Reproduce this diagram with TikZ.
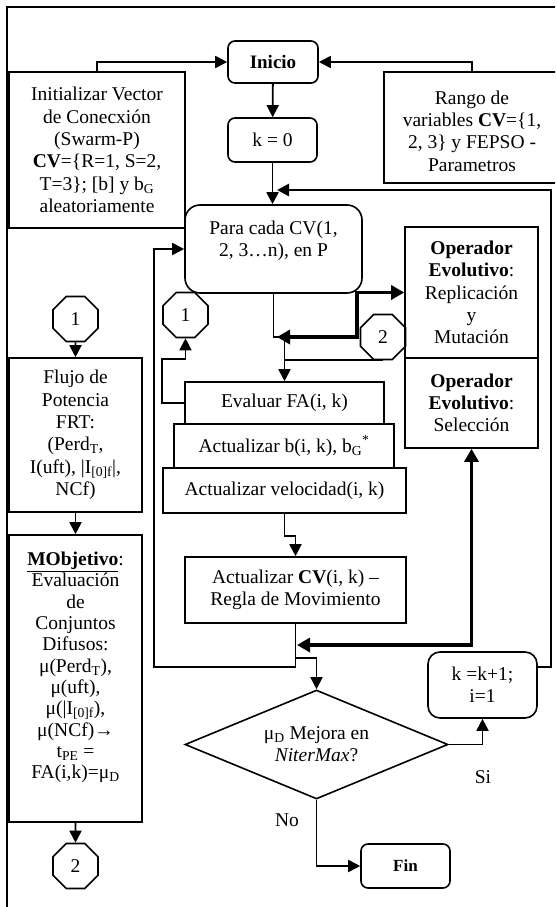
\documentclass[tikz,border=0pt]{standalone}
\usepackage{fontspec}
\setmainfont{Liberation Serif}
\usepackage{tikz}
\usetikzlibrary{
	arrows.meta,
	calc,
	positioning,
	shapes.geometric
}
\newcommand{\bodysize}{\fontsize{19.5pt}{22.3pt}\selectfont}
\newcommand{\tagsize}{\fontsize{17pt}{20pt}\selectfont}

\begin{document}
\begin{tikzpicture}[x=1pt, y=-1pt,
		box/.style={draw, line width=1.6pt, inner sep=0pt, align=center, font=\bodysize},
		rbox/.style={box, rounded corners=7pt},
		txt/.style={inner sep=0pt, align=center, font=\bodysize},
		octa/.style={draw, line width=1.6pt, shape=regular polygon, regular polygon sides=8, minimum size=48.7pt, inner sep=0pt, font=\bodysize},
		flow/.style={line width=1.8pt, -{Triangle[length=12pt, width=12pt]}},
		bold flow/.style={line width=3.6pt, {Triangle[length=13pt, width=14pt]}-{Triangle[length=13pt, width=14pt]}}
	]
		\useasboundingbox (0,0) rectangle (555,907);
		\clip (0,0) rectangle (555,907);
		% frame
		\draw[line width=1.6pt] (7,915) -- (7,7) -- (560,7);
		
		% top row
		\node[rbox, minimum width=90pt, minimum height=42pt, font=\fontsize{19pt}{22pt}\selectfont\bfseries] (inicio) at (273,62) {Inicio};
		\node[rbox, minimum width=89pt, minimum height=44pt] (k0) at (272.5,140) {k = 0};
		\node[box, minimum width=176pt, minimum height=156pt] (init) at (97,150) {Initializar Vector\\ de Conecxión\\ (Swarm-P)\\ \textbf{CV}=\{R=1, S=2,\\ T=3\}; [b] y b\textsubscript{G}\\ aleatoriamente};
		% box runs off the right edge
		\node[box, minimum width=200pt, minimum height=111pt] (rango) at (484,127.5) {};
		\node[txt] (rangotxt) at (472,131) {Rango de\\ variables \textbf{CV}=\{1,\\ 2, 3\} y FEPSO -\\ Parametros};
		\node[rbox, rounded corners=15pt, minimum width=177pt, minimum height=88pt] (para) at (273.5,249) {};
		\node[txt] at (273.5,241) {Para cada CV(1,\\ 2, 3…n), en P};
		
		% connectors
		\node[octa] (oct1a) at (75.5,319) {1};
		\node[octa] (oct1b) at (185.5,315) {1};
		\node[octa] (oct2b) at (383,337) {2};
		\node[octa] (oct2a) at (75.5,866) {2};
		
		% left column
		\node[box, minimum width=133pt, minimum height=154pt] (flujo) at (75.5,435) {Flujo de\\ Potencia\\ FRT:\\ (Perd\textsubscript{T},\\ I(uft), |I\textsubscript{[0]f}|,\\ NCf)};
		\node[box, minimum width=133pt, minimum height=287pt] (mobj) at (75.5,678.5) {};
		\node[txt, font=\fontsize{19.5pt}{21.3pt}\selectfont] at (75.5,667.5) {\underline{\textbf{MObjetivo}}:\\ Evaluación\\ de\\ Conjuntos\\ Difusos:\\ μ(Perd\textsubscript{T}),\\ μ(uft),\\ μ(|I\textsubscript{[0]f}),\\ μ(NCf)→\\ t\textsubscript{PE} =\\ FA(i,k)=μ\textsubscript{D}};
		
		% operators
		\node[box, minimum width=133pt, minimum height=131pt] (rep) at (471.5,292.5) {\textbf{Operador}\\ \textbf{Evolutivo}:\\ Replicación\\ y\\ Mutación};
		\node[box, minimum width=133pt, minimum height=90pt] (sel) at (471.5,403) {\textbf{Operador}\\ \textbf{Evolutivo}:\\ Selección};
		
		% middle stack
		\node[box, minimum width=199pt, minimum height=42pt] (eval) at (284.5,403) {Evaluar FA(i, k)};
		\node[box, minimum width=220pt, minimum height=44pt] (actb) at (284,446) {Actualizar b(i, k), b\textsubscript{G}\textsuperscript{*}};
		\node[box, minimum width=243pt, minimum height=45pt] (vel) at (284.5,490.5) {Actualizar velocidad(i, k)};
		\node[box, minimum width=221pt, minimum height=66pt] (acv) at (295.5,590) {Actualizar \textbf{CV}(i, k) –\\ Regla de Movimiento};
		
		% decision
		\node[draw, line width=1.6pt, shape=diamond, aspect=2.4, minimum width=263pt, minimum height=109pt, inner sep=0pt, align=center, font=\bodysize] (dec) at (316.5,744.5) {μ\textsubscript{D} Mejora en\\ \textit{NiterMax}?};
		\node[rbox, rounded corners=12pt, minimum width=109pt, minimum height=66pt] (kinc) at (482.5,685) {k =k+1;\\ i=1};
		\node[rbox, minimum width=89pt, minimum height=44pt, font=\tagsize\bfseries] (fin) at (405.5,866) {Fin};
		\node[txt] (si) at (483,777) {Si};
		\node[txt] (no) at (287,820) {No};
		
		% arrows
		\draw[flow] (init.north) |- (inicio.west);
		\draw[flow] (rango.north -| rangotxt) |- (inicio.east);
		\draw[flow] (inicio) -- (k0);
		\draw[flow] (k0.south) -- (k0.south |- para.north);
		\coordinate (back) at (277,190);
		\draw[line width=2.6pt, -{Triangle[length=12pt, width=12pt]}] ([yshift=18pt]kinc.east) -- ++(13,0) |- (back);
		
		\coordinate (j3) at (284.5,337);
		\draw[flow] (para.south) |- (j3) -- (eval.north);
		\coordinate (j4) at (277,337);
		\draw[bold flow] (j4) -| ([xshift=-47pt]rep.west) -- (rep.west);
		\draw[line width=1.8pt] (oct2b.south) -- (oct2b.south -| j3);
		\draw[flow] (eval.west) -- ++(-22,0) -- ++(0,-44) -| (oct1b.south);
		\draw[flow] (vel.south) -- ++(0,22) -| (acv.north);
		
		\coordinate (lp) at (154,667);
		\draw[flow] (acv.south) |- (lp) |- (para.west);
		\draw[flow] ([yshift=-34pt]acv.south) -| (dec.north);
		\coordinate (j2) at (297,645);
		\draw[bold flow] (j2) -| (sel.south);
		
		\draw[flow] (dec.east) -| (kinc.south);
		\draw[flow] (dec.south) |- (fin.west);
		
		\draw[flow] (oct1a) -- (flujo);
		\draw[flow] (flujo) -- (mobj);
		\draw[flow] (mobj) -- (oct2a);
	\end{tikzpicture}
\end{document}
